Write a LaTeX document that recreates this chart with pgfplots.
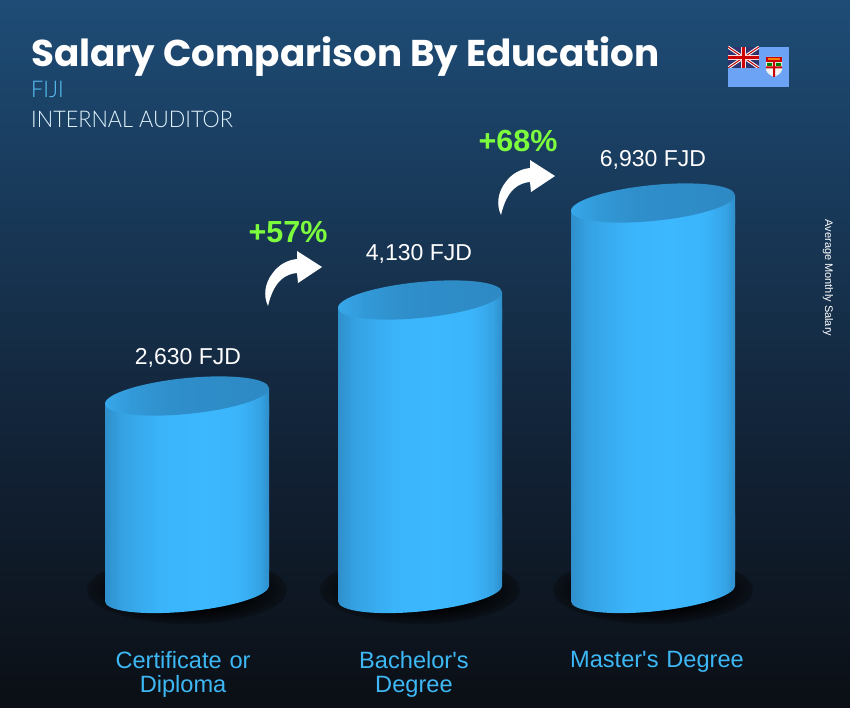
\documentclass[border=0pt]{standalone}
\usepackage{fontspec}
\setmainfont{Liberation Sans}
\newfontfamily\labfont{Liberation Sans}
\newfontfamily\titlefont{Poppins}
\newfontfamily\lightfont{Lato Light}[FakeStretch=0.944]
\usepackage{pgfplots}
\usepackage{pgfplotstable}
\pgfplotsset{compat=1.18}
\definecolor{bartop}{HTML}{2F8FCB}
\definecolor{barlight}{HTML}{3CB8FF}
\definecolor{lab}{HTML}{3DB8F5}
\definecolor{grn}{HTML}{7CFC3C}
\definecolor{bg0}{RGB}{11,15,21}
\definecolor{bg1}{RGB}{18,35,55}
\definecolor{bg2}{RGB}{30,76,118}
\colorlet{shbg}{bg0!85!bg1}
\pgfdeclarehorizontalshading{cyl}{100bp}{color(0bp)=(bartop);color(25bp)=(bartop);color(30bp)=(bartop!55!barlight);color(42bp)=(barlight!90!bartop);color(55bp)=(barlight);color(66bp)=(barlight!90!bartop);color(72bp)=(barlight!50!bartop);color(75bp)=(bartop);color(100bp)=(bartop)}
\pgfdeclarehorizontalshading{capc}{100bp}{color(0bp)=(barlight);color(25bp)=(barlight!60!bartop);color(33bp)=(bartop!75!barlight);color(45bp)=(bartop);color(75bp)=(bartop!96!black);color(100bp)=(bartop!96!black)}
\pgfdeclareradialshading{shd}{\pgfpointorigin}{color(0bp)=(black);color(14bp)=(black);color(25bp)=(shbg);color(50bp)=(shbg)}
\pgfdeclareplotmark{cylshadow}{\path[draw=none,shading=shd] (0pt,-6pt) ellipse (100pt and 34pt);}
\pgfdeclareplotmark{cylbase}{\path[draw=none,shading=cyl] (-82pt,-17.29pt) .. controls (-82pt,-27.23pt) and (-45.29pt,-31.8pt) .. (0pt,-27.5pt) .. controls (45.29pt,-23.2pt) and (82pt,-11.65pt) .. (82pt,-1.71pt) -- (82pt,70pt) -- (-82pt,70pt) -- cycle;}
\pgfdeclareplotmark{cyltop}{%
  \path[draw=none,shading=cyl] (-82pt,0.21pt) -- (82pt,15.79pt) -- (82pt,-14pt) -- (-82pt,-30pt) -- cycle;
  \path[draw=none,shading=capc] (-82pt,0.21pt) .. controls (-82pt,10.15pt) and (-45.29pt,21.7pt) .. (0pt,26pt) .. controls (45.29pt,30.3pt) and (82pt,25.73pt) .. (82pt,15.79pt) .. controls (82pt,5.85pt) and (45.29pt,-5.7pt) .. (0pt,-10pt) .. controls (-45.29pt,-14.3pt) and (-82pt,-9.73pt) .. (-82pt,0.21pt) -- cycle;}
\pgfplotstableread{
x salary base dy dx
0 2630 0 46 1
1 4130 0 54 -1
2 6930 0 51 0
}\saltable
\begin{document}
\begin{tikzpicture}
\useasboundingbox (0,0) rectangle (850pt,-708pt);
\shade[bottom color=bg0,top color=bg1] (0,-708pt) rectangle (850pt,-440pt);
\shade[bottom color=bg1,top color=bg2] (0,-440pt) rectangle (850pt,0);
\begin{axis}[
  at={(0,0)},anchor=north west,
  scale only axis,width=850pt,height=708pt,
  xmin=-0.8026,xmax=2.8455,
  y coord trafo/.code={\pgfmathparse{(#1)<2630 ? (#1)/2630*180 : ((#1)<4130 ? 180+((#1)-2630)/1500*96 : 276+((#1)-4130)/2800*97)}},
  ymin=-1811.8,ymax=13020.7,
  clip=false,
  axis line style={draw=none},
  major tick length=0pt,
  ytick=\empty,
  xtick={-0.017,0.974,2.017},
  xticklabels={{Certificate or\\Diploma},{Bachelor's\\Degree},{Master's Degree}},
  xticklabel style={yshift=60pt,text width=240pt,align=center,text=lab,font=\labfont\fontsize{23.6}{24}\selectfont},
  /pgf/number format/1000 sep={,},
  /pgf/number format/assume math mode=true,
]
\addplot[only marks,mark=cylshadow] table[x=x,y=base]{\saltable};
\pgfplotsinvokeforeach{0,1,2}{
\addplot[ybar,bar width=164pt,draw=none,shading=cyl,restrict x to domain=#1:#1] table[x=x,y=salary]{\saltable};
}
\addplot[only marks,mark=cylbase] table[x=x,y=base]{\saltable};
\addplot[only marks,mark=cyltop,
  point meta=\thisrow{salary},
  visualization depends on={\thisrow{dy}\as\dy},
  visualization depends on={\thisrow{dx}\as\dx},
  nodes near coords={\pgfmathprintnumber{\pgfplotspointmeta} FJD},
  every node near coord/.append style={anchor=center,yshift=\dy pt,xshift=\dx pt,text=white,font=\fontsize{23}{24}\selectfont},
] table[x=x,y=salary]{\saltable};
\end{axis}
\begin{scope}[x=1pt,y=-1pt]
\node[anchor=base west,inner sep=0pt,text=white] at (31,66.5) {\titlefont\bfseries\fontsize{37.3}{37}\selectfont Salary Comparison By Education};
\node[anchor=base west,inner sep=0pt,text=lab!85!white] at (31,98) {\lightfont\fontsize{23}{24}\selectfont FIJI};
\node[anchor=base west,inner sep=0pt,text=white!85!lab] at (31,128) {\lightfont\fontsize{23}{24}\selectfont INTERNAL AUDITOR};
\node[rotate=-90,text=white,inner sep=0pt,font=\fontsize{11}{11}\selectfont] at (828,278) {Average Monthly Salary};
\node[text=grn,inner sep=0pt,font=\bfseries\fontsize{30.5}{31}\selectfont] at (288,232) {+57\%};
\node[text=grn,inner sep=0pt,font=\bfseries\fontsize{30.5}{31}\selectfont] at (518,141) {+68\%};
\foreach \sx/\sy in {0/0,233/-91}{
\fill[white,shift={(\sx,\sy)}] (268,306) .. controls (263,296) and (265,283) .. (272,274) .. controls (279,264) and (288,260) .. (297,259) -- (297,251) -- (322,267) -- (298,283) -- (297,273) .. controls (286,274) and (274,280) .. (268,306) -- cycle;
}
% flag
\fill[fill={rgb,255:red,108;green,163;blue,245}] (728,47) rectangle (789,87);
\fill[fill={rgb,255:red,45;green,52;blue,110}] (728,47) rectangle (759,68);
\begin{scope}
\clip (728,47) rectangle (759,68);
\draw[white,line width=3pt] (728,47) -- (759,68) (759,47) -- (728,68);
\draw[red!75!black,line width=1pt] (728,47) -- (759,68) (759,47) -- (728,68);
\draw[white!85!red,line width=5pt] (743.5,47) -- (743.5,68) (728,57.5) -- (759,57.5);
\draw[red!80!black,line width=3pt] (743.5,47) -- (743.5,68) (728,57.5) -- (759,57.5);
\end{scope}
\fill[white!90!gray] (766,57) -- (782,57) -- (782,70) .. controls (781,74) and (776,76) .. (774,77) .. controls (772,76) and (767,74) .. (766,70) -- cycle;
\fill[red!80!black] (766,57) rectangle (782,62);
\fill[orange] (768,58) rectangle (780,60.5);
\fill[red!80!black] (773,62) rectangle (775,77) (766,66.5) rectangle (782,68.5);
\fill[green!50!black] (767,63) rectangle (772,66) (776,63) rectangle (781,66);
\end{scope}
\end{tikzpicture}
\end{document}
